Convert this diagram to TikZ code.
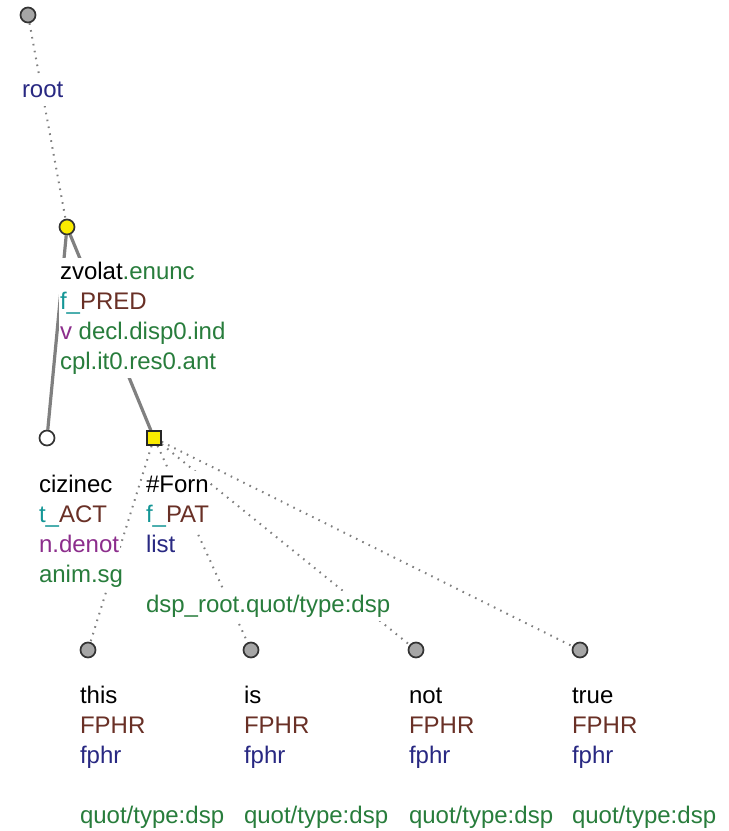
\documentclass[tikz,border=0pt]{standalone}
\usepackage{fontspec}
\setmainfont{Liberation Sans}
\usetikzlibrary{backgrounds}
\definecolor{cgreen}{RGB}{40,125,60}
\definecolor{cbrown}{RGB}{105,48,38}
\definecolor{cteal}{RGB}{20,150,150}
\definecolor{cpurple}{RGB}{140,45,140}
\definecolor{cnavy}{RGB}{40,40,130}
\definecolor{cyell}{RGB}{250,235,0}
\tikzset{
  x=1pt, y=-1pt,
  lbl/.style={anchor=base west, inner xsep=0.8pt, inner ysep=3.6pt, text height=18pt, text depth=5pt, fill=white, font=\fontsize{24}{30}\selectfont},
  gcirc/.style={circle, draw=black!80, line width=1.7pt, fill=black!35, minimum size=15pt, inner sep=0pt},
  ycirc/.style={gcirc, fill=cyell},
  wcirc/.style={gcirc, fill=white},
  ysq/.style={rectangle, draw=black!85, line width=1.5pt, fill=cyell, minimum size=14pt, inner sep=0pt},
  soft/.style={draw=black!50, line width=2pt, dash pattern=on 1.6pt off 5.4pt},
  hard/.style={draw=black!50, line width=3.2pt},
}
\begin{document}
\begin{tikzpicture}
\useasboundingbox (0,0) rectangle (729,831);
% nodes
\node[gcirc] (r) at (28,15) {};
\node[ycirc] (z) at (67,227) {};
\node[wcirc] (c) at (47,438) {};
\node[ysq] (f) at (154,438) {};
\node[gcirc] (t1) at (88,650) {};
\node[gcirc] (t2) at (251,650) {};
\node[gcirc] (t3) at (416,650) {};
\node[gcirc] (t4) at (580,650) {};
% edges
\begin{pgfonlayer}{background}
\draw[soft] (r) -- (z);
\draw[hard] (z) -- (c);
\draw[hard] (z) -- (f);
\draw[soft] (f) -- (t1);
\draw[soft] (f) -- (t2);
\draw[soft] (f) -- (t3);
\draw[soft] (f) -- (t4);
\end{pgfonlayer}
% labels
\node[lbl] (rl) at (21,97.6) {\textcolor{cnavy}{root}};
\node[lbl] (z1) at (59,279.6) {zvolat\textcolor{cgreen}{.enunc}};
\node[lbl] (z2) at (59,309.6) {\textcolor{cteal}{f\_}\textcolor{cbrown}{PRED}};
\node[lbl] (z3) at (59,339.6) {\textcolor{cpurple}{v}\ \textcolor{cgreen}{decl.disp0.ind}};
\node[lbl] (z4) at (59,369.6) {\textcolor{cgreen}{cpl.it0.res0.ant}};
\node[lbl] (c1) at (38,492.6) {cizinec};
\node[lbl] (c2) at (38,522.6) {\textcolor{cteal}{t\_}\textcolor{cbrown}{ACT}};
\node[lbl] (c3) at (38,552.6) {\textcolor{cpurple}{n.denot}};
\node[lbl] (c4) at (38,582.6) {\textcolor{cgreen}{anim.sg}};
\node[lbl] (f1) at (145,492.6) {\#Forn};
\node[lbl] (f2) at (145,522.6) {\textcolor{cteal}{f\_}\textcolor{cbrown}{PAT}};
\node[lbl] (f3) at (145,552.6) {\textcolor{cnavy}{list}};
\node[lbl] (f4) at (145,612.6) {\textcolor{cgreen}{dsp\_root.quot/type:dsp}};
\foreach \n/\x/\w in {1/79/this,2/243/is,3/408/not,4/571/true}{
  \node[lbl] (w\n a) at (\x,703.6) {\w};
  \node[lbl] (w\n b) at (\x,733.6) {\textcolor{cbrown}{FPHR}};
  \node[lbl] (w\n c) at (\x,763.6) {\textcolor{cnavy}{fphr}};
  \node[lbl] (w\n d) at (\x,823.6) {\textcolor{cgreen}{quot/type:dsp}};
}
\end{tikzpicture}
\end{document}
